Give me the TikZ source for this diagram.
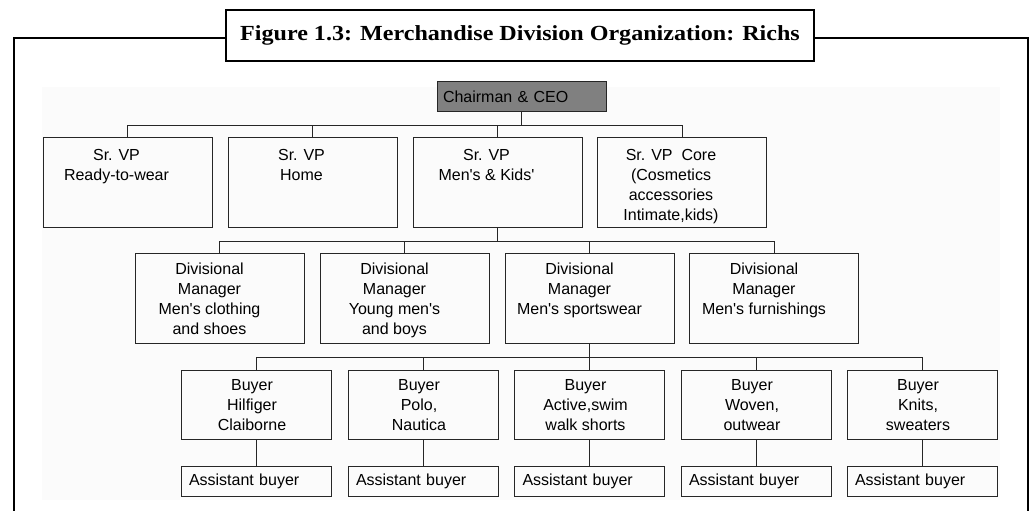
\documentclass[tikz,border=0pt]{standalone}
\usepackage{graphicx}
\usepackage{fontspec}
\setmainfont{Liberation Sans}
\newfontfamily\titlefont{Liberation Serif}
\usepackage{tikz}
\usetikzlibrary{positioning}

% box text: width, height, first baseline, right pad, lines
\newcommand{\orgtext}[5]{\parbox[c][#2][t]{#1}{\centering\rightskip=#4 plus 1fil\relax\rule{0pt}{#3}#5}}
\newcommand{\vptext}[1]{\orgtext{169pt}{90pt}{23pt}{22pt}{#1}}
\newcommand{\dmtext}[1]{\orgtext{169pt}{90pt}{21pt}{20pt}{#1}}
\newcommand{\buyertext}[1]{\orgtext{150pt}{69pt}{20pt}{8pt}{#1}}
\newcommand{\q}{\textquotesingle}

\begin{document}
\begin{tikzpicture}[x=1pt, y=-1pt, font=\fontsize{16}{20}\selectfont,
		line/.style={draw=black!85, line width=0.8pt},
		orgbox/.style={draw=black!85, line width=0.8pt, inner sep=0pt, anchor=north},
		ceobox/.style={orgbox, fill=gray, text width=157pt, inner xsep=6pt, minimum height=30pt, align=left},
		asstbox/.style={orgbox, text width=134pt, inner xsep=8pt, minimum height=30pt, align=left},
		titlebox/.style={draw=black, line width=2.5pt, fill=white, minimum width=588pt, minimum height=51pt, inner sep=0pt},
		frame/.style={draw=black, line width=2.5pt}]
		\useasboundingbox (0,0) rectangle (1031,511);
		\fill[black!1.5] (42,87) rectangle (1000,500);

		% title and frame
		\draw[frame] (14,511) |- (226,38);
		\draw[frame] (814,38) -| (1028,511);
		\node[titlebox] (title) at (520,35.5) {\scalebox{1.12}[1]{\titlefont\bfseries\fontsize{21.5}{24}\selectfont Figure 1.3: Merchandise Division Organization: Richs}};

		\node[ceobox] (ceo) at (521.5,81) {Chairman \& CEO};

		% senior vice presidents
		\node[orgbox] (vpready) at (127.5,137) {\vptext{Sr. VP\\Ready-to-wear}};
		\node[orgbox] (vphome) at (312.5,137) {\vptext{Sr. VP\\Home}};
		\node[orgbox] (vpmen) at (497.5,137) {\vptext{Sr. VP\\Men\q s \& Kids\q}};
		\node[orgbox] (vpcore) at (682,137) {\vptext{Sr. VP~~Core\\(Cosmetics\\accessories\\Intimate,kids)}};
		\coordinate (vpbus) at (0,125);
		\draw[line] (ceo.south) -- (ceo.south |- vpbus);
		\draw[line] (vpready.north) |- (vpcore.north |- vpbus) -- (vpcore.north);
		\draw[line] (vphome.north) -- (vphome.north |- vpbus);
		\draw[line] (vpmen.north) -- (vpmen.north |- vpbus);

		% divisional managers
		\node[orgbox] (dmclothing) at (219.5,253) {\dmtext{Divisional\\Manager\\Men\q s clothing\\and shoes}};
		\node[orgbox] (dmyoung) at (404.5,253) {\dmtext{Divisional\\Manager\\Young men\q s\\and boys}};
		\node[orgbox] (dmsport) at (589.5,253) {\dmtext{Divisional\\Manager\\Men\q s sportswear}};
		\node[orgbox] (dmfurnish) at (774,253) {\dmtext{Divisional\\Manager\\Men\q s furnishings}};
		\coordinate (dmbus) at (0,241);
		\draw[line] (vpmen.south) -- (vpmen.south |- dmbus);
		\draw[line] (dmclothing.north) |- (dmfurnish.north |- dmbus) -- (dmfurnish.north);
		\draw[line] (dmyoung.north) -- (dmyoung.north |- dmbus);
		\draw[line] (dmsport.north) -- (dmsport.north |- dmbus);

		% buyers
		\node[orgbox] (byhilfiger) at (256,370) {\buyertext{Buyer\\Hilfiger\\Claiborne}};
		\node[orgbox] (bypolo) at (423,370) {\buyertext{Buyer\\Polo,\\Nautica}};
		\node[orgbox] (byactive) at (589.5,370) {\buyertext{Buyer\\Active,swim\\walk shorts}};
		\node[orgbox] (bywoven) at (756,370) {\buyertext{Buyer\\Woven,\\outwear}};
		\node[orgbox] (byknits) at (922,370) {\buyertext{Buyer\\Knits,\\sweaters}};
		\coordinate (buyerbus) at (0,357);
		\draw[line] (dmsport.south) -- (dmsport.south |- buyerbus);
		\draw[line] (byhilfiger.north) |- (byknits.north |- buyerbus) -- (byknits.north);
		\draw[line] (bypolo.north) -- (bypolo.north |- buyerbus);
		\draw[line] (byactive.north) -- (byactive.north |- buyerbus);
		\draw[line] (bywoven.north) -- (bywoven.north |- buyerbus);

		% assistant buyers
		\foreach \name/\x in {hilfiger/256, polo/423, active/589.5, woven/756, knits/922}{
			\node[asstbox] (as\name) at (\x,466) {Assistant buyer};
			\draw[line] (by\name.south) -- (as\name.north);
		}
\end{tikzpicture}
\end{document}
